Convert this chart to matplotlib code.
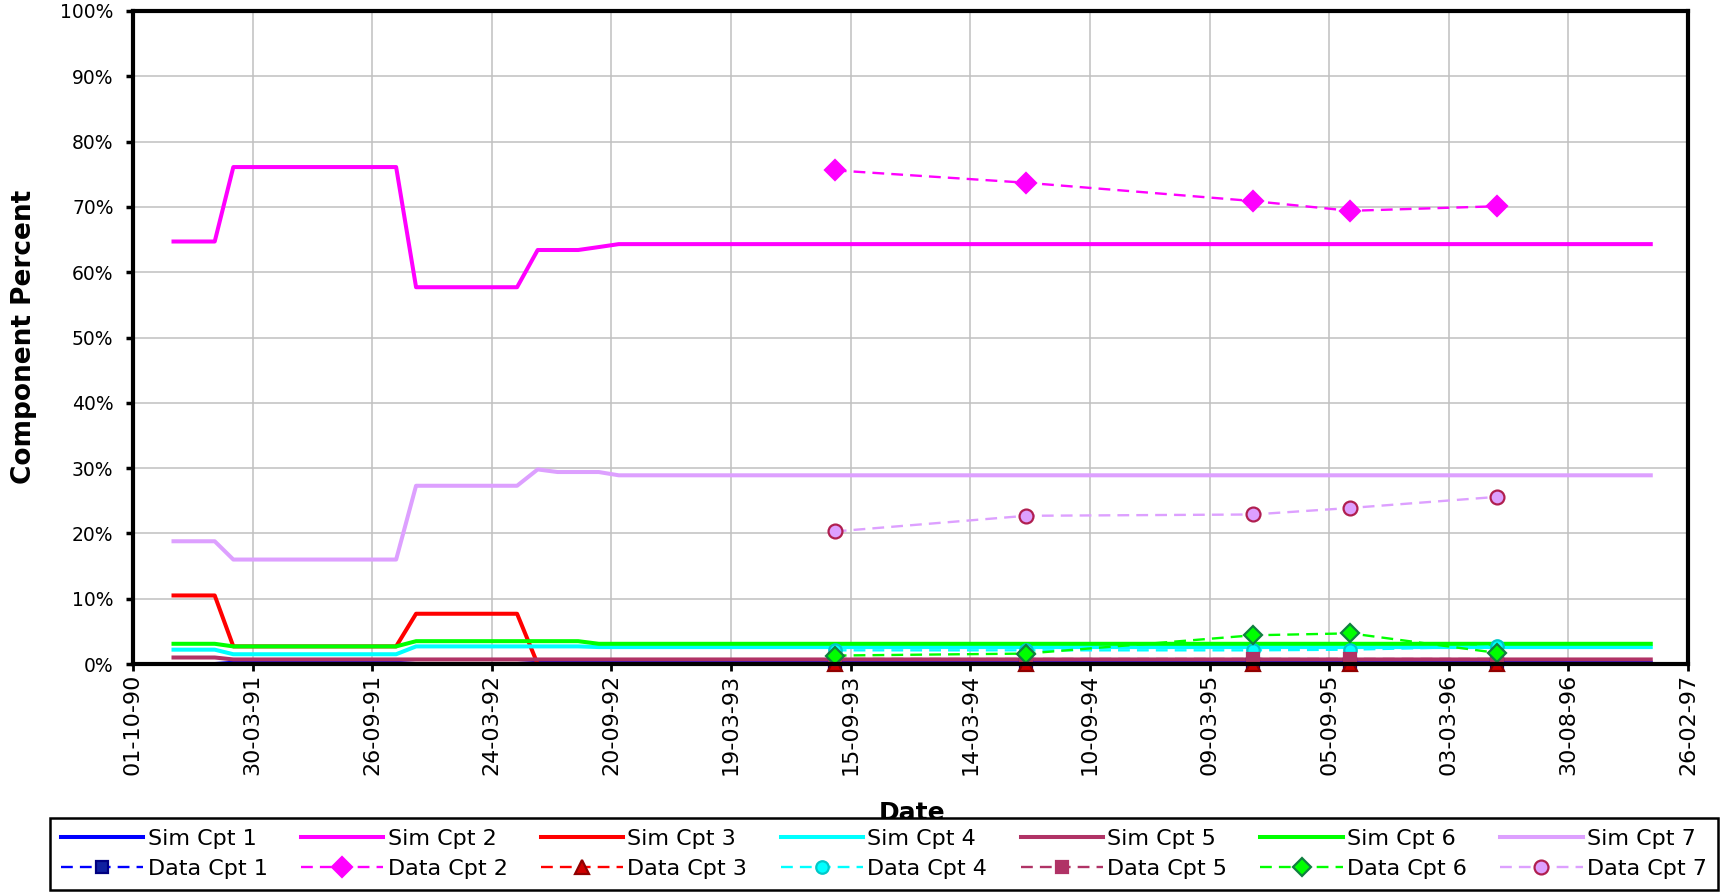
import matplotlib
matplotlib.use("Agg")
import matplotlib.pyplot as plt
import matplotlib.dates as mdates
import pandas as pd

# simulation output (percent), breakpoints of the piecewise series
sim_dates = ["1990-12-01", "1991-02-01", "1991-03-01", "1991-11-01", "1991-12-01",
             "1992-05-01", "1992-06-01", "1992-07-01", "1992-08-01", "1992-09-01",
             "1992-10-01", "1997-01-01"]
sim_cpt1 = [0.0, 0.0, 0.2, 0.2, 0.0, 0.0, 0.2, 0.2, 0.2, 0.2, 0.2, 0.2]
sim_cpt2 = [64.7, 64.7, 76.1, 76.1, 57.7, 57.7, 63.4, 63.4, 63.4, 63.85, 64.3, 64.3]
sim_cpt3 = [10.5, 10.5, 2.7, 2.7, 7.7, 7.7, 0.0, 0.0, 0.0, 0.0, 0.0, 0.0]
sim_cpt4 = [2.2, 2.2, 1.5, 1.5, 2.7, 2.7, 2.7, 2.7, 2.7, 2.6, 2.6, 2.6]
sim_cpt5 = [1.0, 1.0, 0.7, 0.7, 0.7, 0.7, 0.7, 0.7, 0.7, 0.7, 0.7, 0.7]
sim_cpt6 = [3.1, 3.1, 2.7, 2.7, 3.5, 3.5, 3.5, 3.5, 3.5, 3.1, 3.1, 3.1]
sim_cpt7 = [18.8, 18.8, 16.0, 16.0, 27.3, 27.3, 29.8, 29.4, 29.4, 29.4, 28.9, 28.9]

# measured samples (percent)
data_dates = ["1993-08-22", "1994-06-06", "1995-05-13", "1995-10-07", "1996-05-15"]
data_cpt1 = [0.0, 0.0, 0.0, 0.0, 0.0]
data_cpt2 = [75.6, 73.7, 70.9, 69.4, 70.1]
data_cpt3 = [0.0, 0.0, 0.0, 0.0, 0.0]
data_cpt4 = [2.1, 2.1, 2.1, 2.2, 2.7]
data_cpt5 = [0.8, 0.8, 0.8, 0.8, 0.8]
data_cpt6 = [1.3, 1.6, 4.4, 4.7, 1.7]
data_cpt7 = [20.3, 22.7, 22.9, 23.9, 25.6]

tick_dates = ["1990-10-01", "1991-03-30", "1991-09-26", "1992-03-24", "1992-09-20",
              "1993-03-19", "1993-09-15", "1994-03-14", "1994-09-10", "1995-03-09",
              "1995-09-05", "1996-03-03", "1996-08-30", "1997-02-26"]
pct_ticks = [0, 10, 20, 30, 40, 50, 60, 70, 80, 90, 100]
pct_labels = ["0%", "10%", "20%", "30%", "40%", "50%", "60%", "70%", "80%", "90%", "100%"]

sim_t = pd.to_datetime(sim_dates)
data_t = pd.to_datetime(data_dates)
ticks_t = pd.to_datetime(tick_dates)

plt.rcParams['font.family'] = ['DejaVu Sans']

fig = plt.figure(figsize=(17.27, 8.93), dpi=100)
ax = fig.add_axes([0.077, 0.2564, 0.9004, 0.7313])

sims = [sim_cpt1, sim_cpt2, sim_cpt3, sim_cpt4, sim_cpt5, sim_cpt6, sim_cpt7]
datas = [data_cpt1, data_cpt2, data_cpt3, data_cpt4, data_cpt5, data_cpt6, data_cpt7]
colors = ['#0000FF', '#FF00FF', '#FF0000', '#00FFFF', '#B03366', '#00FF00', '#DDA0FF']
markers = ['s', 'D', '^', 'o', 's', 'D', 'o']
mfaces = ['#1020A0', '#FF00FF', '#D00000', '#00FFFF', '#B03366', '#00FF00', '#DDA0FF']
medges = ['#000080', '#FF00FF', '#900000', '#00C8C8', '#B03366', '#108040', '#B01F50']
msizes = [8, 10, 10, 9, 8, 9, 10]

sim_lines = []
for i, vals in enumerate(sims):
    ln, = ax.plot(sim_t, vals, color=colors[i], lw=2.9, zorder=3,
                  label="Sim Cpt %d" % (i + 1))
    sim_lines.append(ln)

data_lines = []
for i, vals in enumerate(datas):
    ln, = ax.plot(data_t, vals, color=colors[i], lw=1.7, ls=(0, (5, 3)),
                  marker=markers[i], ms=msizes[i], mfc=mfaces[i], mec=medges[i],
                  mew=1.6, clip_on=False, zorder=4, label="Data Cpt %d" % (i + 1))
    data_lines.append(ln)

ax.set_xlim(mdates.date2num(ticks_t[0]), mdates.date2num(ticks_t[-1]))
ax.set_xticks(mdates.date2num(ticks_t))
ax.xaxis.set_major_formatter(mdates.DateFormatter('%d-%m-%y'))
ax.set_ylim(0, 100)
ax.set_yticks(pct_ticks)
ax.set_yticklabels(pct_labels)

ax.grid(True, color='#C0C0C0', lw=1.1)
ax.set_axisbelow(True)
for sp in ax.spines.values():
    sp.set_linewidth(3)
    sp.set_color('black')
    sp.set_zorder(5)

ax.tick_params(axis='y', length=5, width=2.5, pad=9, labelsize=13.5)
ax.tick_params(axis='x', length=5, width=2, pad=2, labelsize=16, labelrotation=90)

fig.text(0.014, 0.623, 'Component Percent', rotation=90, ha='center', va='center',
         fontsize=19, fontweight='bold')
fig.text(0.528, 0.0817, 'Date', ha='center', va='baseline', fontsize=18,
         fontweight='bold')

# legend: two rows, sims on top and data below
handles, labels = [], []
for s, d in zip(sim_lines, data_lines):
    handles += [s, d]
    labels += [s.get_label(), d.get_label()]
leg = fig.legend(handles, labels, ncol=7, loc='lower left',
                 bbox_to_anchor=(50 / 1727, 3 / 893, 1668 / 1727, 75 / 893),
                 mode='expand', borderaxespad=0, fontsize=16, handlelength=3.7,
                 handletextpad=0.2, columnspacing=1.5, borderpad=0.5,
                 labelspacing=0.45, numpoints=1, fancybox=False, framealpha=1,
                 edgecolor='black')
leg.get_frame().set_linewidth(1.8)

fig.savefig('out.png', dpi=100)
